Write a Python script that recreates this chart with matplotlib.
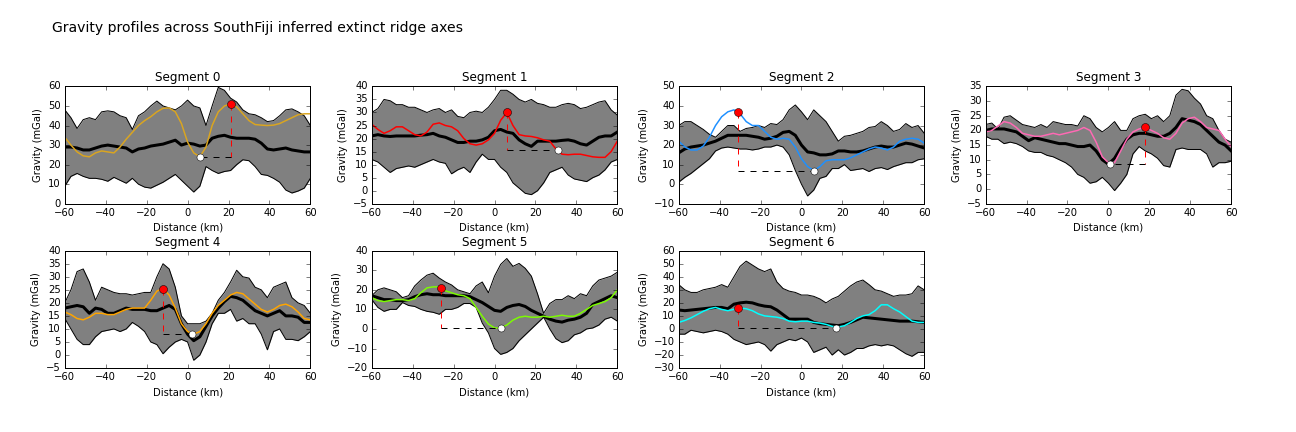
import numpy as np
import matplotlib
matplotlib.use("Agg")
import matplotlib.pyplot as plt

plt.style.use("classic")
plt.rcParams["font.size"] = 10

# distance along profile (km), 3 km sampling
distance = list(range(-60, 61, 3))

seg_names = ["Segment 0", "Segment 1", "Segment 2", "Segment 3",
             "Segment 4", "Segment 5", "Segment 6"]
seg_colors = ["goldenrod", "red", "dodgerblue", "hotpink",
              "orange", "lawngreen", "cyan"]
seg_ylims = [(0, 60), (-5, 40), (-10, 50), (-5, 35), (-5, 40), (-20, 40), (-30, 60)]
seg_ystep = [10, 5, 10, 5, 5, 10, 10]

# envelope (max / min of stacked profiles), mean profile, and the picked profile
seg0_upper = [48, 44, 38.5, 43, 44, 43, 47, 47.5, 47, 45, 44, 38, 45, 47, 50, 52.5, 50, 49, 48, 50, 53,
              50, 49, 40, 50, 59.5, 58, 54, 52, 48, 46, 45.5, 44, 42, 42.5, 45, 48, 48.5, 47, 45, 40]
seg0_lower = [9, 14, 15.5, 14, 13, 13, 12.5, 11.5, 13.5, 12, 10.5, 13, 10, 8.5, 8, 9.5, 11, 13, 15, 12, 9,
              6, 9, 19, 17, 15.5, 16.5, 17, 20, 22.5, 22, 19, 15, 14.5, 13, 11, 7, 5.5, 6.5, 8, 13]
seg0_mean = [29, 29, 28.5, 27.5, 27.5, 28.5, 29.5, 30, 29.5, 29, 28.5, 26.5, 28, 28.5, 29.5, 30, 30.5, 31.5,
             32.5, 30, 31, 30.5, 29.5, 30, 33.5, 34.5, 35, 34, 33.5, 33.5, 33.5, 33, 31, 28, 27.5, 28, 28.5,
             27.5, 27, 26.5, 26.5]
seg0_profile = [34, 30, 26.5, 24.5, 24, 26, 27, 26.5, 26, 29, 33, 36.5, 40, 42.5, 44.5, 47, 48.8, 49, 47,
                41, 31.5, 26, 24, 29, 40, 47, 50, 51, 49.5, 46, 42.5, 40.5, 40.2, 40, 40.2, 41, 42.5, 44,
                45.5, 46, 46]

seg1_upper = [30, 31.5, 35, 34.5, 33, 33, 32, 32, 31, 30, 31, 31.5, 30, 31, 28.5, 28, 30, 30.5, 30, 32, 35,
              38.5, 38.5, 37, 35, 34, 35, 33.5, 33, 32, 32, 33, 33.5, 33, 31.5, 32, 33, 34, 34.5, 31, 29]
seg1_lower = [12, 11, 9, 7, 8.5, 9, 9.5, 9, 10, 11, 12, 11, 10.5, 6.5, 8, 9, 7, 11, 14, 12, 12, 9, 7, 3, 1,
              -1, -1.5, 0, 3, 7, 8, 9, 6, 4.5, 4, 3.5, 5, 6, 8, 11, 12]
seg1_mean = [21, 21.5, 21, 20.8, 21, 21, 21, 21, 21.3, 21.5, 22, 21, 20.5, 19.5, 18.5, 18.5, 19, 19, 19.5,
             20.5, 23, 23.5, 22.5, 22, 19.5, 18, 17, 19, 19, 19, 19, 19.3, 19.5, 19, 18, 17.5, 19, 20.5,
             21, 21, 22.5]
seg1_profile = [25.5, 23.5, 22, 23, 24.5, 24.5, 23, 21.5, 21, 22.5, 25.5, 26, 25, 24.5, 23, 20, 18, 17.5,
                18, 19.5, 22, 27, 30, 25, 21.5, 21, 20.8, 20.3, 19.5, 19, 16, 14, 13.8, 14, 14, 13.5, 13,
                12.8, 12.8, 15, 19]

seg2_upper = [30, 32, 32, 30, 28, 25.5, 24, 27, 30, 30, 27, 28.5, 29, 30, 29, 31, 30.5, 33, 38, 40.5, 37,
              33, 38, 35, 32, 27, 22, 24.5, 25, 26, 27, 29, 29.5, 32, 30, 27, 28, 31, 29, 30, 26]
seg2_lower = [1, 3.5, 5.5, 8, 10.5, 13, 17, 18.5, 19, 18.5, 18, 18, 17.5, 18, 19, 19, 20, 19, 15, 7, 0, -6,
              -3, 3, 4, 8, 8, 10, 7, 7.5, 8, 6.5, 8, 8.5, 7.5, 9, 10, 11, 11, 12.5, 13]
seg2_mean = [16, 18, 19, 19.5, 20, 21, 22, 23.5, 25, 25, 25, 25, 24.5, 24, 23, 23.5, 24.5, 26.5, 27, 25, 20,
             16.5, 16, 15, 15, 15.5, 17, 17, 16.5, 16.5, 17, 18, 19, 19.5, 19, 19, 20, 21, 20.5, 19.5, 18.5]
seg2_profile = [22, 19, 17.5, 17.5, 19.5, 24, 30, 34.5, 37, 38, 36, 32, 30, 30, 27, 24, 23, 23.5, 23, 19,
                13, 9, 7, 9, 12, 12.5, 12.5, 12.5, 13.5, 15, 16.5, 18, 19, 18.5, 17.5, 19, 22, 23, 23.5,
                23, 21]

seg3_upper = [22, 22.5, 20.5, 24.5, 25, 23.5, 22, 21.5, 21, 22, 21, 23, 22.5, 22, 22, 21.5, 25, 24, 21, 19.5,
              21, 23, 20, 20, 24, 25, 25.5, 24, 25, 23, 25, 32, 34, 33.5, 31, 29, 25, 24, 20, 17, 16]
seg3_lower = [18, 17, 17, 15.5, 16, 15.5, 14.5, 13, 12.5, 12.5, 11.5, 11, 10, 9, 7.5, 5, 4, 2, 2.5, 4, 2,
              -0.5, 2, 5, 12, 14.5, 13, 12, 10.5, 8, 7.5, 13.5, 14, 13.5, 13.5, 13.5, 12, 7.5, 9, 9, 9.5]
seg3_mean = [20, 20.5, 20.5, 20.5, 20, 19.5, 18, 16.5, 17.5, 17, 16.5, 16, 15.5, 15.5, 15, 14.5, 14.5, 15,
             13, 10, 8.5, 10.5, 14, 17, 18.5, 19, 19, 18.5, 18, 18, 19, 21, 24, 23.5, 23, 22, 20, 18, 16,
             15, 13]
seg3_profile = [19.5, 20, 21.5, 23, 22.5, 21, 19, 18.5, 18, 18, 18.5, 19, 18.5, 19, 19.5, 20, 21, 20, 16,
                11, 9, 9, 13, 17, 19.5, 20.5, 21, 20, 19, 17.5, 17, 19, 22.5, 24, 24.5, 23, 21, 20.5, 20,
                17, 14.5]

seg4_upper = [20, 25, 32, 33, 28, 21, 26, 25, 24, 23.5, 23.5, 23, 23.5, 24, 24, 30, 35, 33, 26, 15, 12, 12,
              12, 13, 16, 21, 24, 28, 32.5, 30, 29.5, 26, 25, 22, 26, 27, 28, 22, 20, 19, 16]
seg4_lower = [14, 10, 6, 4, 4, 7, 9, 9.5, 10, 9, 10, 12.5, 11, 9, 5, 4, 0.5, 3, 5, 6, 5, -2, 0, 5, 12, 16,
              16, 17.5, 13, 14, 12, 12, 8, 2, 9, 10, 6, 6, 5.5, 7, 9]
seg4_mean = [18, 18.5, 19, 18.5, 16, 18, 17.5, 16, 16, 17, 18, 17.5, 17.5, 17.5, 17, 17, 18, 19, 17.5, 12,
             8, 5.5, 7, 11, 15, 18, 20.5, 22.5, 22, 21, 19, 17, 16, 15, 16, 17, 15, 15, 14.5, 12.5, 12.5]
seg4_profile = [16.5, 15.5, 14, 13.5, 14.5, 16, 16, 15.5, 15.5, 16.5, 17.5, 18, 18, 18, 21, 24.5, 25.5, 23,
                18, 12, 9, 8, 9, 12, 16, 19, 21, 23, 24, 23.5, 21.5, 19.5, 17.5, 16.5, 17.5, 19, 19.5, 18.5,
                16.5, 14, 13.5]

seg5_upper = [17, 20, 21, 20, 19, 16, 17, 22, 25, 27.5, 28.5, 26, 24, 22.5, 20, 19, 18, 22, 24, 18.5, 27, 33,
              36, 32, 33.5, 31, 27, 18, 8, 13, 15, 15, 17, 15.5, 18, 17, 22, 25, 26, 27, 29]
seg5_lower = [15, 11, 9, 10, 10, 13.5, 12, 11.5, 10, 9, 8.5, 7.5, 10, 10, 11, 13, 13, 11, 3, -2, -10, -13,
              -12, -10, -6, -3, 0, 3, 6, 0, -5, -7, -6, -3, -2, 0, 0.5, 2, 5, 6, 4]
seg5_mean = [17, 16, 15, 15, 14.5, 14.5, 15, 16.5, 17.5, 18, 17.5, 17.5, 17, 17, 17, 17, 16.5, 15, 13.5,
             11.5, 9.5, 9, 11, 12, 12.5, 11.5, 9.5, 8, 6.5, 5, 4, 3.5, 4.5, 5, 6, 8, 12.5, 14, 15.5, 17, 16]
seg5_profile = [16, 14.5, 14, 14.5, 15, 15, 14.5, 15.5, 18.5, 21, 21.5, 21.5, 19.5, 18.5, 17.5, 17, 15.5,
                11, 6.5, 2.5, 0.5, 0.5, 2, 4.5, 6, 6.5, 6, 6, 6.5, 6, 6.5, 7, 6.5, 6.5, 8, 10, 12, 13, 14,
                16, 20]

seg6_upper = [34, 30, 28, 28, 30, 31, 32, 34, 32, 40, 48, 52, 49, 46, 44, 46, 36, 31, 29, 28, 26, 26, 25,
              23, 20, 23, 25, 29, 33, 36, 37.5, 34, 30, 29, 27, 25, 26, 26, 27, 33, 30]
seg6_lower = [-4, -4, -1, -2, -3, -2, -1, -2, -4, -8, -10, -12, -11, -10, -12, -17, -12, -10, -8, -9, -7,
              -10, -18, -16, -14, -20, -16, -20, -18, -15, -15, -13, -12, -13, -12, -13, -16, -19, -21,
              -18, -18]
seg6_mean = [14.5, 14, 14.5, 15, 15.5, 16, 16.5, 16.5, 15.5, 19, 20, 20.5, 20, 18.5, 17.5, 17, 14.5, 11,
             7.5, 7.5, 7.5, 7.5, 5, 4, 3.5, 3, 2.5, 3.5, 5, 7, 9, 8.5, 8, 7.5, 7, 6.5, 6, 6, 6, 5.5, 5]
seg6_profile = [5, 6.5, 8.5, 11, 13.5, 15.5, 16.5, 15, 14, 15, 16, 15.5, 14, 11.5, 10, 9.5, 9, 8, 6, 5.5, 6,
                6, 5, 4.5, 3.5, 2, 1.5, 2.5, 5, 8, 10, 11, 14, 18.5, 18.5, 15.5, 13, 9.5, 6, 5, 5]

# picked ridge-flank maximum (red) and axial minimum (white): [x, y]
seg_peaks = [[21, 51], [6, 30], [-31, 37], [18, 21], [-12, 25.5], [-26, 21], [-31, 16]]
seg_troughs = [[6, 24], [31, 15.5], [6, 7], [1, 8.5], [2, 8], [3, 0.5], [17, 1]]

uppers = [seg0_upper, seg1_upper, seg2_upper, seg3_upper, seg4_upper, seg5_upper, seg6_upper]
lowers = [seg0_lower, seg1_lower, seg2_lower, seg3_lower, seg4_lower, seg5_lower, seg6_lower]
means = [seg0_mean, seg1_mean, seg2_mean, seg3_mean, seg4_mean, seg5_mean, seg6_mean]
profiles = [seg0_profile, seg1_profile, seg2_profile, seg3_profile,
            seg4_profile, seg5_profile, seg6_profile]

fig = plt.figure(figsize=(18, 6), dpi=72)
fig.subplots_adjust(left=0.05, right=0.95, top=0.80, bottom=0.148, wspace=0.25, hspace=0.40)
fig.text(52 / 1296, 0.935, "Gravity profiles across SouthFiji inferred extinct ridge axes",
         fontsize=14, va="center", ha="left")

x = np.array(distance)
for i in range(7):
    ax = fig.add_subplot(2, 4, i + 1)
    ax.fill_between(x, lowers[i], uppers[i], color="0.5", lw=0)
    ax.plot(x, uppers[i], color="k", lw=1)
    ax.plot(x, lowers[i], color="k", lw=1)
    ax.plot(x, means[i], color="k", lw=3)
    ax.plot(x, profiles[i], color=seg_colors[i], lw=1.5)

    px, py = seg_peaks[i]
    tx, ty = seg_troughs[i]
    ax.plot([px, px], [py, ty], "r--", lw=1)
    ax.plot([px, tx], [ty, ty], "k--", lw=1)
    ax.plot(px, py, "o", color="red", mec="k", ms=8)
    ax.plot(tx, ty, "o", color="white", mec="k", ms=7)

    ax.set_xlim(-60, 60)
    ax.set_ylim(*seg_ylims[i])
    ax.set_xticks(range(-60, 61, 20))
    ax.set_yticks(np.arange(seg_ylims[i][0], seg_ylims[i][1] + 0.1, seg_ystep[i]))
    ax.set_title(seg_names[i], fontsize=12)
    ax.set_xlabel("Distance (km)")
    ax.set_ylabel("Gravity (mGal)")

fig.savefig("out.png", dpi=72, facecolor="white")
